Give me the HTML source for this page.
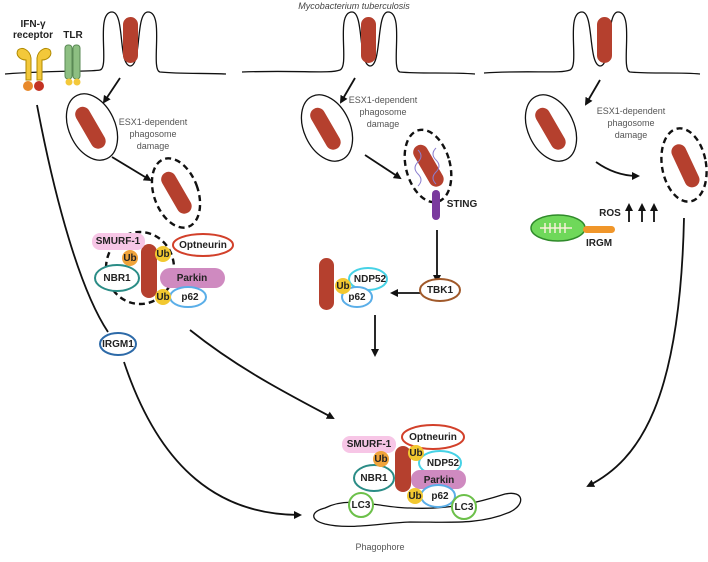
<!DOCTYPE html>
<html><head><meta charset="utf-8"><style>
body{margin:0;background:#fff}
svg text{font-family:"Liberation Sans",sans-serif}
.b{font-weight:bold;font-size:10px;fill:#222}
.g{font-size:9px;fill:#555}
</style></head><body>
<svg width="708" height="557" viewBox="0 0 708 557" xmlns="http://www.w3.org/2000/svg">
<defs><marker id="a" markerWidth="8" markerHeight="8" refX="6" refY="4" orient="auto" markerUnits="userSpaceOnUse"><path d="M0,0 L8,4 L0,8 z" fill="#111"/></marker></defs>
<g fill="none" stroke="#111" stroke-width="1.3">
<path d="M5,74 C60,70 90,72 100,70 C110,68 95,12 112,12 C125,12 118,64 130,66 C142,66 135,12 148,12 C165,12 150,70 160,72 C180,74 205,73 226,74"/>
<path d="M242,72 C300,70 330,74 340,70 C350,66 335,12 352,12 C364,12 358,64 370,66 C382,66 376,12 388,12 C405,12 390,70 400,72 C420,74 450,72 475,74"/>
<path d="M484,73 C530,70 560,74 570,70 C580,66 565,12 582,12 C594,12 588,64 600,66 C612,66 606,12 618,12 C635,12 620,70 630,72 C650,74 680,72 700,74"/>
<ellipse cx="92" cy="127" rx="23" ry="35" transform="rotate(-25 92 127)"/>
<ellipse cx="327" cy="128" rx="23" ry="35" transform="rotate(-25 327 128)"/>
<ellipse cx="551" cy="128" rx="23" ry="35" transform="rotate(-25 551 128)"/>
<g stroke-width="2.4" stroke-dasharray="6,4">
<ellipse cx="176" cy="193" rx="22" ry="36" transform="rotate(-20 176 193)"/>
<ellipse cx="428" cy="166" rx="22" ry="37" transform="rotate(-15 428 166)"/>
<ellipse cx="684" cy="165" rx="22" ry="37" transform="rotate(-10 684 165)"/>
<ellipse cx="140" cy="268" rx="34" ry="36"/>
</g>
<path d="M37,105 C55,200 80,290 108,332" stroke-width="1.8"/>
<g stroke-width="1.8" marker-end="url(#a)">
<path d="M120,78 L104,102"/>
<path d="M355,78 L341,102"/>
<path d="M600,80 L586,104"/>
<path d="M112,157 L150,180"/>
<path d="M365,155 L400,178"/>
<path d="M596,162 C610,172 625,176 638,176"/>
<path d="M437,230 L437,281"/>
<path d="M420,293 L392,293"/>
<path d="M375,315 L375,355"/>
<path d="M629,222 L629,205"/><path d="M642,222 L642,205"/><path d="M654,222 L654,205"/>
<path d="M124,362 C160,470 220,515 300,515" />
<path d="M190,330 C240,370 290,395 333,418"/>
<path d="M684,218 C680,400 640,460 588,486"/>
</g>
<path d="M325,508 C350,495 380,508 410,508 C450,510 480,502 505,494 C525,490 525,505 510,512 C480,525 450,522 410,522 C380,523 350,530 325,524 C310,520 310,512 325,508z"/>
</g>
<path d="M18,50 C22,46 30,50 31,58 L31,80 L26,80 L26,60 C20,60 15,55 18,50z" fill="#f3c83a" stroke="#b08a00" stroke-width="1"/>
<path d="M50,50 C46,46 38,50 37,58 L37,80 L42,80 L42,60 C48,60 53,55 50,50z" fill="#f3c83a" stroke="#b08a00" stroke-width="1"/>
<circle cx="28" cy="86" r="5" fill="#e8892a"/><circle cx="39" cy="86" r="5" fill="#c33222"/>
<rect x="65" y="45" width="7" height="34" rx="3" fill="#8dbf82" stroke="#5a8a55"/>
<rect x="73" y="45" width="7" height="34" rx="3" fill="#8dbf82" stroke="#5a8a55"/>
<circle cx="69" cy="82" r="3.5" fill="#f3c83a"/><circle cx="77" cy="82" r="3.5" fill="#f3c83a"/>
<g fill="#b5402e">
<rect x="123" y="17" width="15" height="46" rx="7.5"/>
<rect x="361" y="17" width="15" height="46" rx="7.5"/>
<rect x="597" y="17" width="15" height="46" rx="7.5"/>
<rect x="83" y="105" width="15" height="46" rx="7.5" transform="rotate(-30 90 128)"/>
<rect x="318" y="106" width="15" height="46" rx="7.5" transform="rotate(-30 325 129)"/>
<rect x="543" y="106" width="15" height="46" rx="7.5" transform="rotate(-30 550 129)"/>
<rect x="169" y="170" width="15" height="46" rx="7.5" transform="rotate(-30 176 193)"/>
<rect x="421" y="143" width="15" height="46" rx="7.5" transform="rotate(-30 428 166)"/>
<rect x="678" y="143" width="15" height="46" rx="7.5" transform="rotate(-25 685 166)"/>
<rect x="141" y="244" width="16" height="54" rx="8"/>
<rect x="319" y="258" width="15" height="52" rx="7.5"/>
<rect x="395" y="446" width="16" height="46" rx="8"/>
</g>
<path d="M418,150 q6,6 0,12 q-6,6 0,12 q6,6 0,12 M436,148 q-6,6 0,12 q6,6 0,12 q-6,6 0,12" stroke="#8b7fd0" fill="none" stroke-width="1"/>
<rect x="432" y="190" width="8" height="30" rx="4" fill="#7a3a9e"/>
<ellipse cx="558" cy="228" rx="27" ry="13" fill="#6fd85a" stroke="#2f8a2a" stroke-width="1.5"/>
<path d="M540,228 L572,228 M545,223 L545,233 M550,223 L550,233 M555,223 L555,233 M560,223 L560,233 M565,223 L565,233" stroke="#f6f0d8" stroke-width="1.5"/>
<rect x="583" y="226" width="32" height="7" rx="3.5" fill="#f0962a"/>
<rect x="92" y="233" width="53" height="17" rx="8" fill="#f7c6e6"/>
<ellipse cx="203" cy="245" rx="30" ry="11" fill="#fff" stroke="#d2402a" stroke-width="2"/>
<ellipse cx="117" cy="278" rx="22" ry="13" fill="#fff" stroke="#2a8c86" stroke-width="2"/>
<rect x="160" y="268" width="65" height="20" rx="10" fill="#cf8ac0"/>
<ellipse cx="188" cy="297" rx="18" ry="10" fill="#fff" stroke="#5aaee8" stroke-width="2"/>
<circle cx="130" cy="258" r="8" fill="#f0a43a"/><circle cx="163" cy="254" r="8" fill="#f2c830"/><circle cx="163" cy="297" r="8" fill="#f2c830"/>
<ellipse cx="368" cy="279" rx="19" ry="11" fill="#fff" stroke="#46d2e6" stroke-width="2"/>
<ellipse cx="357" cy="297" rx="15" ry="10" fill="#fff" stroke="#5aaee8" stroke-width="2"/>
<circle cx="343" cy="286" r="8" fill="#f2c830"/>
<ellipse cx="440" cy="290" rx="20" ry="11" fill="#fff" stroke="#a0592a" stroke-width="2"/>
<ellipse cx="118" cy="344" rx="18" ry="11" fill="#fff" stroke="#2d6aa8" stroke-width="2"/>
<rect x="342" y="436" width="54" height="17" rx="8" fill="#f7c6e6"/>
<ellipse cx="433" cy="437" rx="31" ry="12" fill="#fff" stroke="#d2402a" stroke-width="2"/>
<ellipse cx="440" cy="463" rx="21" ry="12" fill="#fff" stroke="#46d2e6" stroke-width="2"/>
<ellipse cx="374" cy="478" rx="20" ry="13" fill="#fff" stroke="#2a8c86" stroke-width="2"/>
<rect x="411" y="470" width="55" height="19" rx="9" fill="#cf8ac0"/>
<ellipse cx="438" cy="496" rx="17" ry="11" fill="#fff" stroke="#5aaee8" stroke-width="2"/>
<circle cx="381" cy="459" r="8" fill="#f0a43a"/><circle cx="416" cy="453" r="8" fill="#f2c830"/><circle cx="415" cy="496" r="8" fill="#f2c830"/>
<circle cx="361" cy="505" r="12" fill="#fff" stroke="#6cc04a" stroke-width="2"/>
<circle cx="464" cy="507" r="12" fill="#fff" stroke="#6cc04a" stroke-width="2"/>
<text x="33" y="27" class="b" text-anchor="middle">IFN-γ</text>
<text x="33" y="38" class="b" text-anchor="middle">receptor</text>
<text x="73" y="38" class="b" text-anchor="middle">TLR</text>
<text x="354" y="9" font-size="9" font-style="italic" fill="#444" text-anchor="middle">Mycobacterium tuberculosis</text>
<g class="g" text-anchor="middle">
<text x="153" y="125">ESX1-dependent</text><text x="153" y="137">phagosome</text><text x="153" y="149">damage</text>
<text x="383" y="103">ESX1-dependent</text><text x="383" y="115">phagosome</text><text x="383" y="127">damage</text>
<text x="631" y="114">ESX1-dependent</text><text x="631" y="126">phagosome</text><text x="631" y="138">damage</text>
<text x="380" y="550">Phagophore</text>
</g>
<g class="b" font-size="9" text-anchor="middle">
<text x="118" y="244">SMURF-1</text><text x="130" y="261">Ub</text><text x="163" y="257">Ub</text>
<text x="203" y="248">Optneurin</text><text x="117" y="281">NBR1</text><text x="192" y="281">Parkin</text>
<text x="163" y="300">Ub</text><text x="190" y="300">p62</text>
<text x="462" y="207">STING</text><text x="343" y="289">Ub</text><text x="370" y="282">NDP52</text><text x="357" y="300">p62</text>
<text x="440" y="293">TBK1</text><text x="118" y="347">IRGM1</text>
<text x="610" y="216">ROS</text><text x="599" y="246">IRGM</text>
<text x="369" y="447">SMURF-1</text><text x="433" y="440">Optneurin</text><text x="381" y="462">Ub</text><text x="416" y="456">Ub</text>
<text x="443" y="466">NDP52</text><text x="374" y="481">NBR1</text><text x="439" y="483">Parkin</text>
<text x="415" y="499">Ub</text><text x="440" y="499">p62</text><text x="361" y="508">LC3</text><text x="464" y="510">LC3</text>
</g>
</svg>
</body></html>
